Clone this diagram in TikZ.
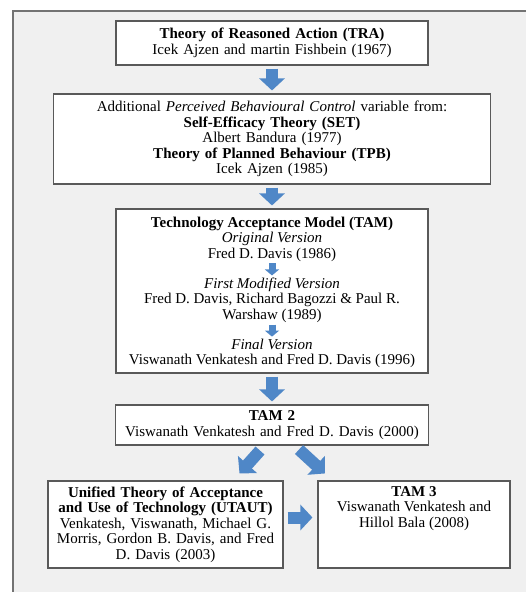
\documentclass[tikz,border=0pt]{standalone}
\usepackage{fontspec}
\setmainfont{Liberation Serif}
\usepackage{xcolor}
\definecolor{lightgray}{gray}{0.94}
\definecolor{framegray}{gray}{0.45}
\definecolor{linegray}{gray}{0.35}
\definecolor{arrowblue}{RGB}{79,135,199}
\usepackage{tikz}
\usetikzlibrary{arrows.meta, calc, positioning}

\tikzset{
	box/.style={draw=linegray, line width=1.1pt, fill=white, align=center, inner xsep=4pt, inner ysep=0pt, font=\fontsize{15}{15.5}\selectfont},
	txt/.style={align=center, inner sep=0pt, font=\fontsize{15}{15.5}\selectfont},
	bigarrow/.style={arrowblue, line width=12pt, -{Triangle[width=25pt, length=12pt]}, shorten >=3pt, shorten <=3pt},
	smallarrow/.style={arrowblue, line width=7pt, -{Triangle[width=14pt, length=6pt]}, shorten >=2pt, shorten <=2pt},
}

\begin{document}
\begin{tikzpicture}[x=1pt, y=-1pt]

\def \xc{272}
% \def \xc{270} % first try

\useasboundingbox (0,0) rectangle (526,592);

\fill[lightgray] (13,11) rectangle (526,592); % background
\draw[framegray, line width=1.3pt] (13,592) -- (13,11) -- (526,11); % frame

\node[box, text width=304pt, minimum height=44pt] (tra) at (\xc, 43) {\textbf{Theory of Reasoned Action (TRA)}\\ Icek Ajzen and martin Fishbein (1967)};

\node[box, text width=429pt, minimum height=90pt] (set) at (\xc, 139) {Additional \textit{Perceived Behavioural Control} variable from:\\ \textbf{Self-Efficacy Theory (SET)}\\ Albert Bandura (1977)\\ \textbf{Theory of Planned Behaviour (TPB)}\\ Icek Ajzen (1985)};

\node[box, text width=304pt, minimum height=164pt] (tam) at (\xc, 291) {};
\node[txt, anchor=north] (tamA) at ([yshift=-8pt]tam.north) {\textbf{Technology Acceptance Model (TAM)}\\ \textit{Original Version}\\ Fred D. Davis (1986)};
\node[txt, below=16pt of tamA] (tamB) {\textit{First Modified Version}\\ Fred D. Davis, Richard Bagozzi \& Paul R.\\ Warshaw (1989)};
\node[txt, below=16pt of tamB] (tamC) {\textit{Final Version}\\ Viswanath Venkatesh and Fred D. Davis (1996)};

\node[box, text width=305pt, minimum height=40pt] (tam2) at (\xc, 425) {\textbf{TAM 2}\\ Viswanath Venkatesh and Fred D. Davis (2000)};

\node[box, text width=227pt, minimum height=87pt] (utaut) at (165.5, 524.5) {\textbf{Unified Theory of Acceptance}\\ \textbf{and Use of Technology (UTAUT)}\\ Venkatesh, Viswanath, Michael G.\\ Morris, Gordon B. Davis, and Fred\\ D. Davis (2003)};

\node[box, text width=184pt, minimum height=87pt] (tam3) at (414, 524.5) {};
\node[txt, anchor=north] (tam3txt) at ([yshift=-5.5pt]tam3.north) {\textbf{TAM 3}\\ Viswanath Venkatesh and\\ Hillol Bala (2008)};

\foreach \a/\b in {tra/set, set/tam, tam/tam2} {
	\draw[bigarrow] (\a.south) -- (\b.north);
}
\draw[smallarrow] (tamA.south) -- (tamB.north);
\draw[smallarrow] (tamB.south) -- (tamC.north);

\draw[bigarrow, shorten <=0pt, shorten >=0pt] ($(tam2.south)+(-12,5)$) -- ($(utaut.north)+(74,-7)$); % to UTAUT
\draw[bigarrow, shorten <=0pt, shorten >=0pt] ($(tam2.south)+(27,4)$) -- ($(tam3.north)+(-89,-7)$); % to TAM 3
\draw[bigarrow, shorten <=4pt, shorten >=5pt] ($(utaut.east)+(0,-7)$) -- ($(tam3.west)+(0,-7)$); % UTAUT to TAM 3

\end{tikzpicture}
\end{document}
